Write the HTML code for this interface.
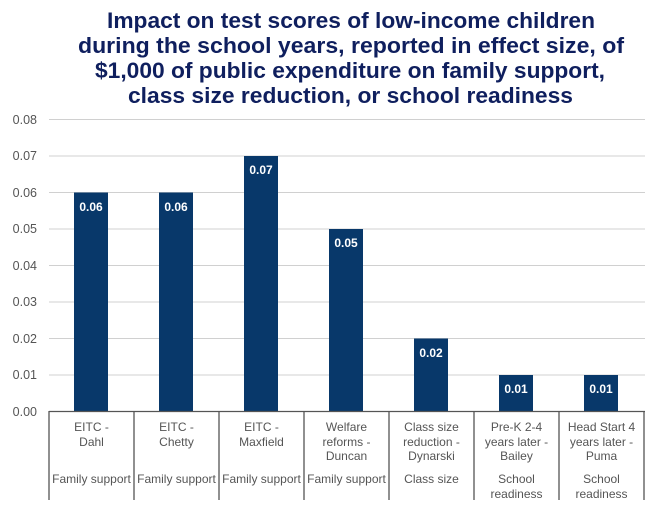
<!DOCTYPE html>
<html><head><style>
body{margin:0;background:#fff;width:660px;height:510px;overflow:hidden}
</style></head><body>
<svg width="660" height="510" xmlns="http://www.w3.org/2000/svg" font-family="Liberation Sans, sans-serif">
<g font-size="22.5" font-weight="bold" fill="#0f1f5e" text-anchor="middle">
<text x="351" y="28" textLength="488" lengthAdjust="spacingAndGlyphs">Impact on test scores of low-income children</text>
<text x="351" y="53" textLength="546" lengthAdjust="spacingAndGlyphs">during the school years, reported in effect size, of</text>
<text x="350" y="78" textLength="510" lengthAdjust="spacingAndGlyphs">$1,000 of public expenditure on family support,</text>
<text x="350.5" y="103" textLength="445" lengthAdjust="spacingAndGlyphs">class size reduction, or school readiness</text>
</g>
<g stroke="#d0d0d0" stroke-width="1">
<line x1="49" x2="645" y1="119.5" y2="119.5"/><line x1="49" x2="645" y1="156" y2="156"/>
<line x1="49" x2="645" y1="192.5" y2="192.5"/><line x1="49" x2="645" y1="229" y2="229"/>
<line x1="49" x2="645" y1="265.5" y2="265.5"/><line x1="49" x2="645" y1="302" y2="302"/>
<line x1="49" x2="645" y1="338.5" y2="338.5"/><line x1="49" x2="645" y1="375" y2="375"/>
</g>
<g font-size="12.5" fill="#555" text-anchor="end">
<text x="37" y="124">0.08</text><text x="37" y="160">0.07</text><text x="37" y="197">0.06</text>
<text x="37" y="233">0.05</text><text x="37" y="270">0.04</text><text x="37" y="306">0.03</text>
<text x="37" y="343">0.02</text><text x="37" y="379">0.01</text><text x="37" y="416">0.00</text>
</g>
<g fill="#08386a">
<rect x="74" y="192.5" width="34" height="219"/>
<rect x="159" y="192.5" width="34" height="219"/>
<rect x="244" y="156" width="34" height="255.5"/>
<rect x="329" y="229" width="34" height="182.5"/>
<rect x="414" y="338.5" width="34" height="73"/>
<rect x="499" y="375" width="34" height="36.5"/>
<rect x="584" y="375" width="34" height="36.5"/>
</g>
<g font-size="12" font-weight="bold" fill="#fff" text-anchor="middle">
<text x="91" y="211">0.06</text><text x="176" y="211">0.06</text><text x="261" y="174">0.07</text>
<text x="346" y="247">0.05</text><text x="431" y="357">0.02</text><text x="516" y="393">0.01</text><text x="601" y="393">0.01</text>
</g>
<g stroke="#555" stroke-width="1.3">
<line x1="49" x2="645" y1="411.5" y2="411.5"/>
<line x1="49" x2="49" y1="411" y2="500"/><line x1="134" x2="134" y1="411" y2="500"/>
<line x1="219" x2="219" y1="411" y2="500"/><line x1="304" x2="304" y1="411" y2="500"/>
<line x1="389" x2="389" y1="411" y2="500"/><line x1="474" x2="474" y1="411" y2="500"/>
<line x1="559" x2="559" y1="411" y2="500"/><line x1="644" x2="644" y1="411" y2="500"/>
</g>
<g font-size="12" fill="#555" text-anchor="middle">
<text x="91.5" y="431">EITC -</text><text x="91.5" y="446">Dahl</text>
<text x="176.5" y="431">EITC -</text><text x="176.5" y="446">Chetty</text>
<text x="261.5" y="431">EITC -</text><text x="261.5" y="446">Maxfield</text>
<text x="346.5" y="431">Welfare</text><text x="346.5" y="446">reforms -</text><text x="346.5" y="460">Duncan</text>
<text x="431.5" y="431">Class size</text><text x="431.5" y="446">reduction -</text><text x="431.5" y="460">Dynarski</text>
<text x="516.5" y="431">Pre-K 2-4</text><text x="516.5" y="446">years later -</text><text x="516.5" y="460">Bailey</text>
<text x="601.5" y="431">Head Start 4</text><text x="601.5" y="446">years later -</text><text x="601.5" y="460">Puma</text>
<text x="91.5" y="483">Family support</text><text x="176.5" y="483">Family support</text>
<text x="261.5" y="483">Family support</text><text x="346.5" y="483">Family support</text>
<text x="431.5" y="483">Class size</text>
<text x="516.5" y="483">School</text><text x="516.5" y="498">readiness</text>
<text x="601.5" y="483">School</text><text x="601.5" y="498">readiness</text>
</g>
</svg>
</body></html>
